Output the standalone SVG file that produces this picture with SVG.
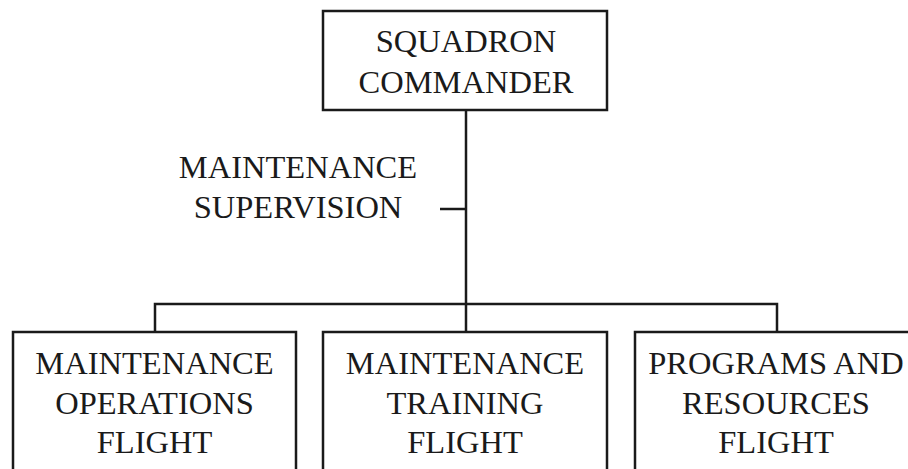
<svg xmlns="http://www.w3.org/2000/svg" width="908" height="469" viewBox="0 0 908 469">
<style>
.box{fill:#fff;stroke:#1a1a1a;stroke-width:2.5}
.ln{stroke:#1a1a1a;stroke-width:2.5;fill:none}
text{font-family:"Liberation Serif","Times New Roman",serif;font-size:32.5px;fill:#1a1a1a;text-anchor:middle}
</style>
<rect width="908" height="469" fill="#fff"/>
<g id="connectors">
<line class="ln" x1="466" y1="110" x2="466" y2="304"/>
<line class="ln" x1="440" y1="209" x2="466" y2="209"/>
<polyline class="ln" points="155,332 155,304 777,304 777,332"/>
<line class="ln" x1="466" y1="304" x2="466" y2="332"/>
</g>
<g id="commander">
<rect class="box" x="323" y="11" width="284" height="99"/>
<text x="466" y="52">SQUADRON</text>
<text x="466" y="93">COMMANDER</text>
</g>
<g id="supervision">
<text x="298" y="178">MAINTENANCE</text>
<text x="298" y="218">SUPERVISION</text>
</g>
<g id="ops">
<rect class="box" x="13" y="332" width="283" height="150"/>
<text x="154.5" y="374">MAINTENANCE</text>
<text x="154.5" y="414">OPERATIONS</text>
<text x="154.5" y="453">FLIGHT</text>
</g>
<g id="training">
<rect class="box" x="323" y="332" width="284" height="150"/>
<text x="465" y="374">MAINTENANCE</text>
<text x="465" y="414">TRAINING</text>
<text x="465" y="453">FLIGHT</text>
</g>
<g id="programs">
<rect class="box" x="635" y="332" width="284" height="150"/>
<text x="776" y="374">PROGRAMS AND</text>
<text x="776" y="414">RESOURCES</text>
<text x="776" y="453">FLIGHT</text>
</g>
</svg>
